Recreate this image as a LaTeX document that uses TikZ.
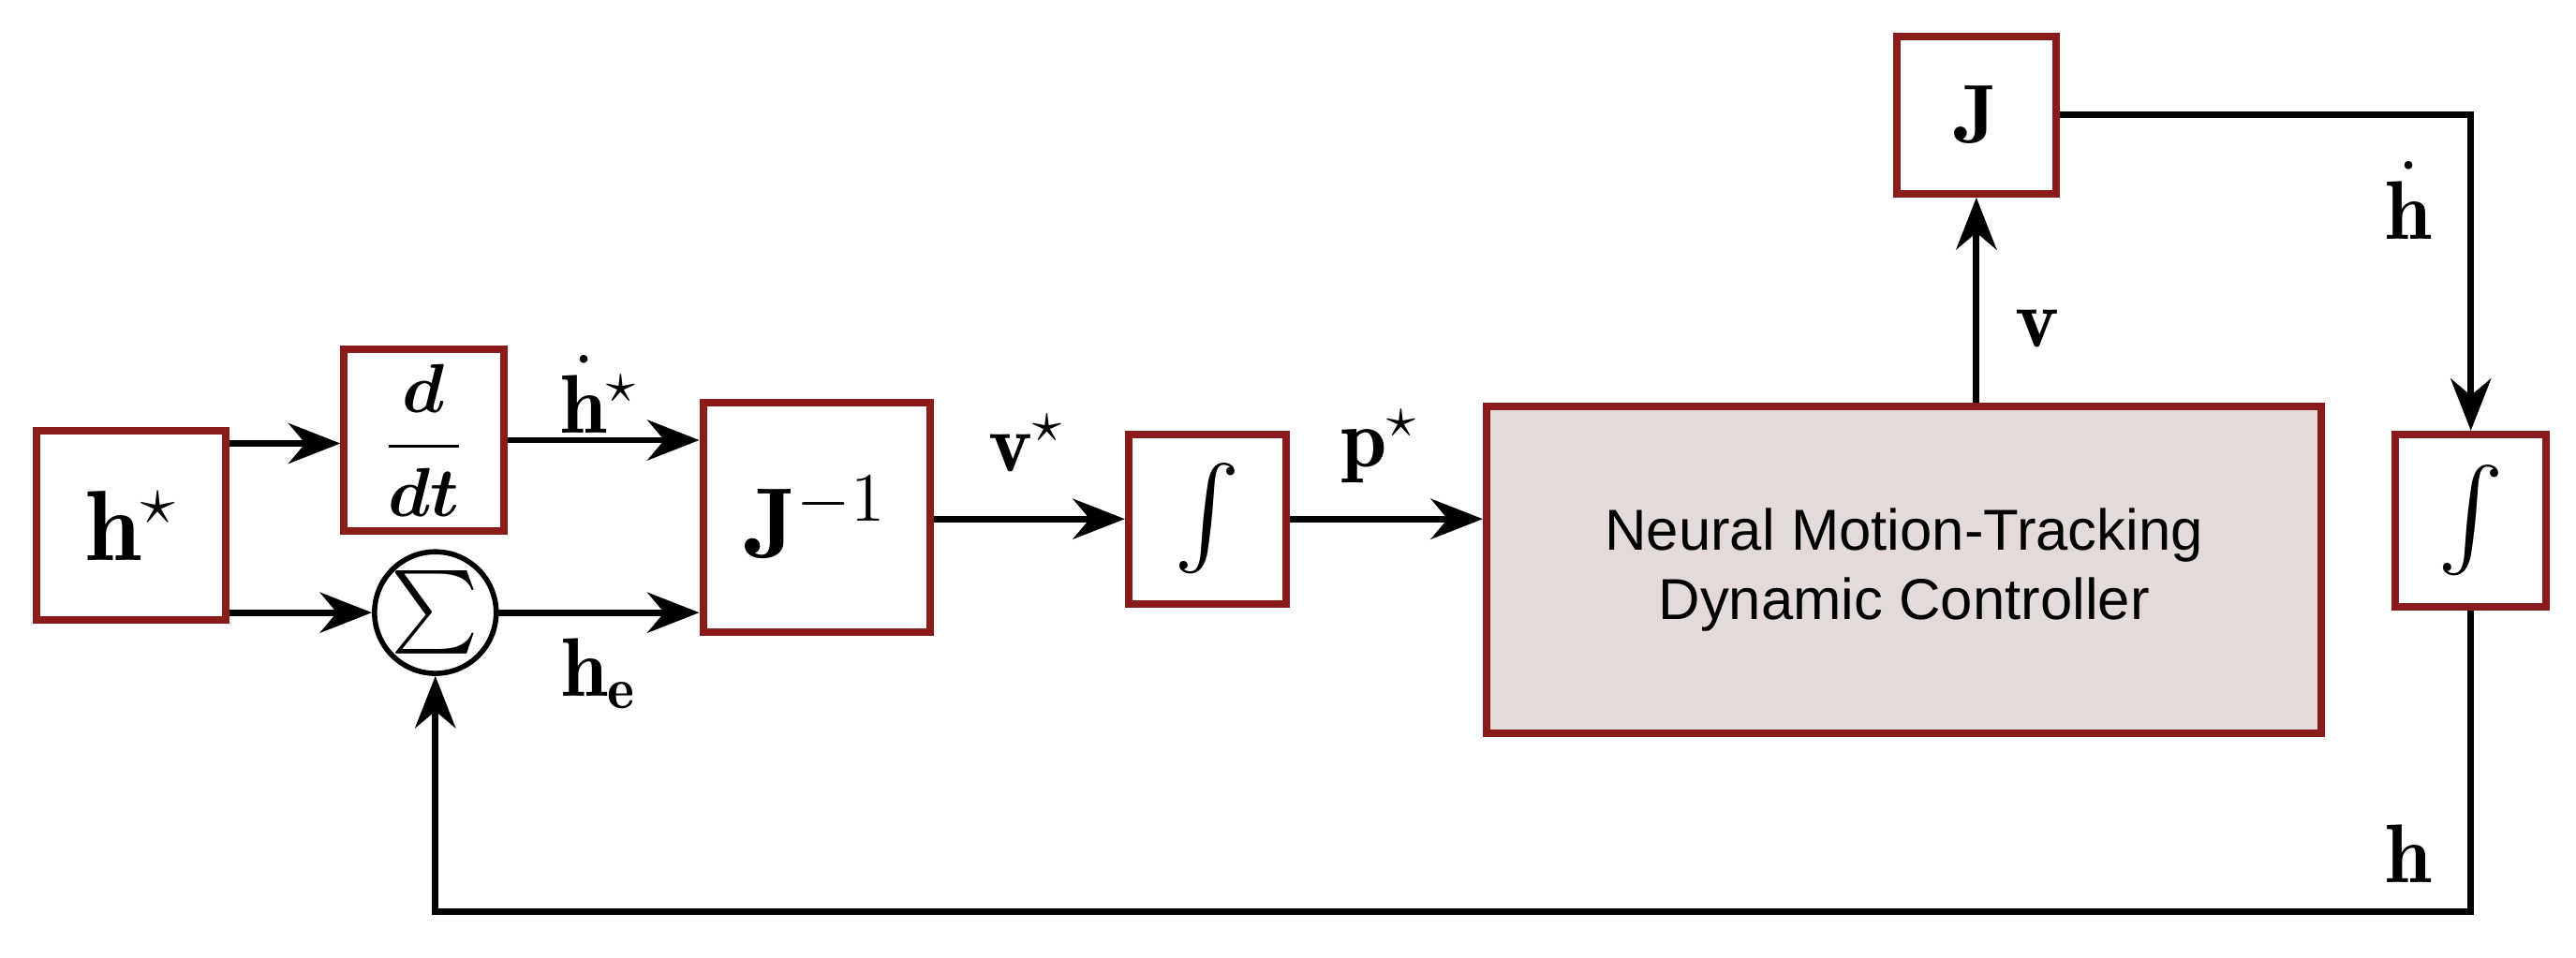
\documentclass[tikz,border=0pt]{standalone}
\usepackage{amsmath,bm}
\usepackage{fontspec}
\newfontfamily\sansf{Liberation Sans}
\usetikzlibrary{arrows.meta}
\definecolor{bred}{HTML}{8B1A1A}
\definecolor{bfill}{HTML}{E3DAD9}
\begin{document}
\begin{tikzpicture}[x=0.01cm,y=-0.01cm,
  blk/.style={draw=bred,line width=1.3pt,fill=white,inner sep=0pt},
  arr/.style={line width=1.1pt,-{Stealth[length=9pt,width=7pt]}},
  lab/.style={font=\Large}]
\useasboundingbox (0,0) rectangle (1568,583);
\node[blk,minimum height=1.15cm,minimum width=1.15cm,font=\LARGE] (hs) at (80,320) {$\mathbf{h}^\star$};
\node[blk,minimum width=0.97cm,minimum height=1.1cm,font=\large] (ddt) at (258,268) {$\boldsymbol{\dfrac{d}{dt}}$};
\node[draw,circle,line width=0.9pt,minimum size=0.74cm,inner sep=0pt,font=\Large] (sum) at (265,373) {$\sum$};
\node[blk,minimum width=1.38cm,minimum height=1.4cm,font=\LARGE] (Ji) at (497,315) {$\mathbf{J}^{-1}$};
\node[blk,minimum width=0.96cm,minimum height=1.03cm,font=\LARGE] (I1) at (735,316) {$\int$};
\node[blk,fill=bfill,minimum width=5.08cm,minimum height=1.99cm,align=center,font=\sansf\normalsize] (C) at (1159,347) {Neural Motion-Tracking\\Dynamic Controller};
\node[blk,minimum width=0.97cm,minimum height=0.96cm,font=\Large] (J) at (1203,70) {$\mathbf{J}$};
\node[blk,minimum width=0.92cm,minimum height=1.05cm,font=\LARGE] (I2) at (1504,317) {$\int$};
\coordinate (c1) at (1504,70);
\coordinate (c2) at (1504,555);
\coordinate (c3) at (265,555);
\draw[arr] (hs.east|-0,270) -- (ddt.west|-0,270);
\draw[arr] (hs.east|-0,373) -- (sum.west);
\draw[arr] (ddt.east) -- (Ji.west|-ddt.east);
\draw[arr] (sum.east) -- (Ji.west|-sum.east);
\draw[arr] (Ji.east|-0,316) -- (I1.west);
\draw[arr] (I1.east) -- (C.west|-I1.east);
\draw[arr] (C.north-|J) -- (J.south);
\draw[arr] (J.east|-c1) -- (c1) -- (I2.north);
\draw[arr] (I2.south) -- (c2) -- (c3) -- (sum.south);
\node[lab] at (365,240) {$\dot{\mathbf{h}}^\star$};
\node[lab] at (365,410) {$\mathbf{h_e}$};
\node[lab] at (625,270) {$\mathbf{v}^\star$};
\node[lab] at (840,272) {$\mathbf{p}^\star$};
\node[lab] at (1240,200) {$\mathbf{v}$};
\node[lab] at (1466,122) {$\dot{\mathbf{h}}$};
\node[lab] at (1466,520) {$\mathbf{h}$};
\end{tikzpicture}
\end{document}
